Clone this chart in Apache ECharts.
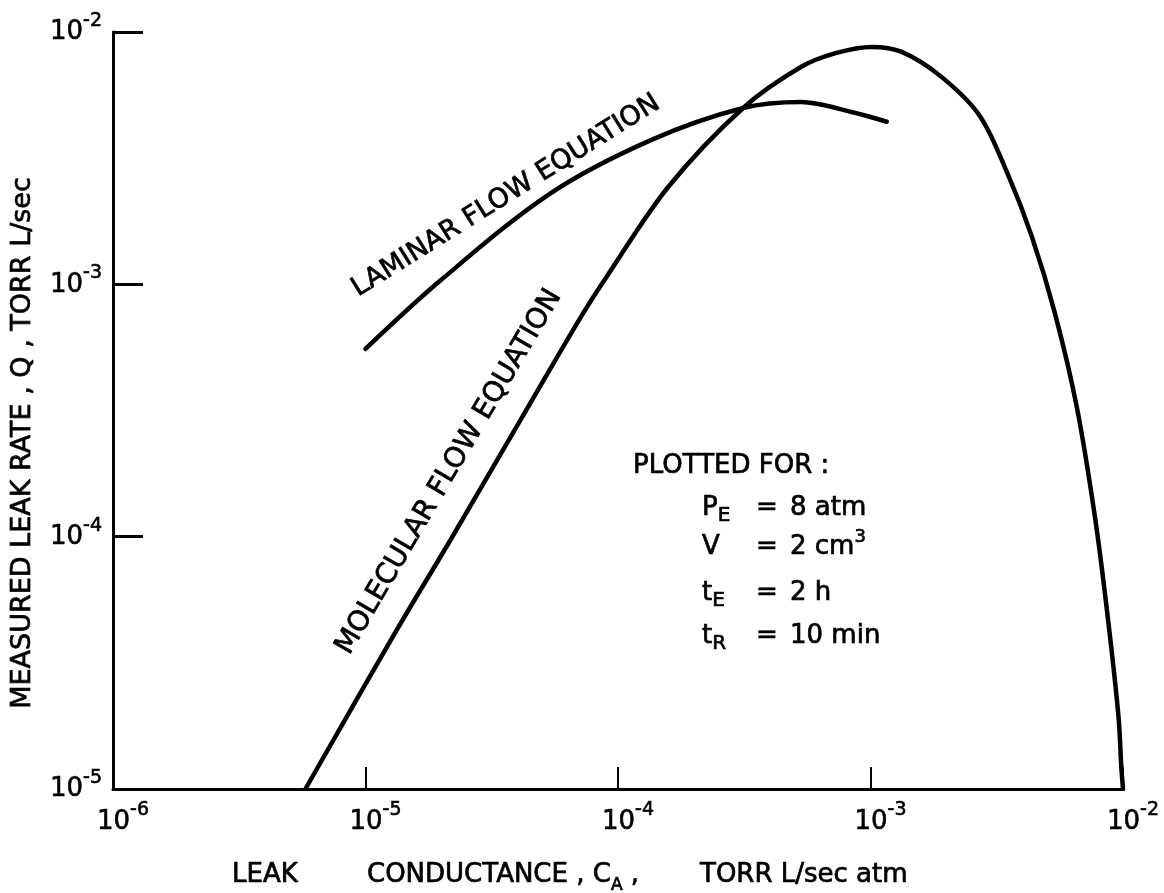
<!DOCTYPE html>
<html>
  <head>
    <meta charset="utf-8" />
    <title>Measured leak rate vs leak conductance</title>
    <style>
      html, body { margin: 0; padding: 0; background: #fff; }
      #main { width: 1164px; height: 893px; }
    </style>
  </head>
  <body>
    <div id="main"></div>
    <script src="https://cdn.jsdelivr.net/npm/echarts@6/dist/echarts.min.js"></script>
    <script>
      // leak conductance C_A (torr L/sec atm) -> measured leak rate Q (torr L/sec)
      var molecularC = [5.78e-6, 1.33e-5, 2.17e-5, 3.9e-5, 7.13e-5, 8.95e-5, 1.58e-4, 3.13e-4, 5.32e-4, 7.33e-4,
        1.01e-3, 1.33e-3, 1.91e-3, 2.71e-3, 3.53e-3, 4.36e-3, 5.37e-3, 6.56e-3, 7.74e-3, 8.7e-3, 9.6e-3, 9.85e-3, 1.0e-2];
      var molecularQ = [1.0e-5, 4.27e-5, 9.7e-5, 2.65e-4, 7.43e-4, 1.06e-3, 2.43e-3, 5.0e-3, 7.28e-3, 8.26e-3,
        8.73e-3, 8.34e-3, 6.64e-3, 4.65e-3, 2.67e-3, 1.54e-3, 7.71e-4, 3.27e-4, 1.2e-4, 4.81e-5, 1.93e-5, 1.22e-5, 1.0e-5];

      var laminarC = [1.0e-5, 1.99e-5, 5.42e-5, 1.35e-4, 3.13e-4, 5.32e-4, 8.41e-4, 1.16e-3];
      var laminarQ = [5.55e-4, 1.04e-3, 2.3e-3, 3.73e-3, 5.0e-3, 5.28e-3, 4.82e-3, 4.41e-3];

      var conditionNames = ["{n|P}{s|E}", "{n|V}", "{n|t}{s|E}", "{n|t}{s|R}"];
      var conditionValues = ["{n|8 atm}", "{n|2 cm}{p|3}", "{n|2 h}", "{n|10 min}"];

      var FONT = "DejaVu Sans";
      var INK = 0.7; // slight outline so the lettering reads as heavy as the original

      function pairs(xs, ys) {
        var out = [];
        for (var i = 0; i < xs.length; i++) {
          out.push([xs[i], ys[i]]);
        }
        return out;
      }

      function powerLabel(v) {
        var e = Math.round(Math.log10(v));
        return "{b|10}{s|" + e + "}";
      }

      function tok(size, extra) {
        var t = { fontSize: size, fontFamily: FONT, fill: "#000", stroke: "#000", lineWidth: INK };
        for (var k in extra) t[k] = extra[k];
        return t;
      }

      var noteRich = {
        n: tok(26, { padding: [6, 0, 5, 0] }),
        s: tok(20, { verticalAlign: "bottom" }),
        p: tok(18, { verticalAlign: "top" }),
      };

      function note(x, y, text) {
        return {
          type: "text",
          x: x,
          y: y,
          z: 100,
          style: { text: text, rich: noteRich, align: "left", verticalAlign: "top" },
        };
      }

      function plainText(x, y, deg, text, size) {
        return {
          type: "text", x: x, y: y, rotation: (deg * Math.PI) / 180, z: 100,
          style: { text: text, fontSize: size, fontFamily: FONT, fill: "#000", stroke: "#000",
            lineWidth: INK, align: "center", verticalAlign: "middle" },
        };
      }

      var graphics = [];
      // y axis name
      graphics.push(plainText(23, 443, 90, "MEASURED LEAK RATE , Q , TORR L/sec", 27));
      // x axis name
      var xRich = {
        n: tok(26, { padding: [0, 0, 6, 0] }),
        s: tok(17, { verticalAlign: "bottom" }),
      };
      graphics.push({ type: "text", x: 232, y: 862, z: 100,
        style: { text: "{n|LEAK}", rich: xRich, align: "left", verticalAlign: "top" } });
      graphics.push({ type: "text", x: 367, y: 862, z: 100,
        style: { text: "{n|CONDUCTANCE , C}{s|A}{n| ,}", rich: xRich, align: "left", verticalAlign: "top" } });
      graphics.push({ type: "text", x: 700, y: 862, z: 100,
        style: { text: "{n|TORR L/sec atm}", rich: xRich, align: "left", verticalAlign: "top" } });

      // curve labels
      graphics.push(plainText(506, 196, 32, "LAMINAR FLOW EQUATION", 27));
      graphics.push(plainText(449, 472, 59.5, "MOLECULAR FLOW EQUATION", 28));

      // plotted-for block
      graphics.push(note(633, 466 - 19, "{n|PLOTTED FOR :}"));
      var rowY = [508, 547, 593, 636];
      for (var i = 0; i < conditionNames.length; i++) {
        graphics.push(note(702, rowY[i] - 19, conditionNames[i]));
        graphics.push(note(756, rowY[i] - 19, "{n|=}"));
        graphics.push(note(790, rowY[i] - 19, conditionValues[i]));
      }

      var axisCommon = {
        type: "log",
        logBase: 10,
        splitLine: { show: false },
        minorTick: { show: false },
        axisLine: { show: true, lineStyle: { color: "#000", width: 3 } },
      };

      var labelRich = function (padLeft) {
        return {
          b: { fontSize: 26, fontFamily: FONT, color: "#000", textBorderColor: "#000", textBorderWidth: 0.6,
            padding: [8, 0, 7, padLeft] },
          s: { fontSize: 19, fontFamily: FONT, color: "#000", textBorderColor: "#000", textBorderWidth: 0.6,
            verticalAlign: "top" },
        };
      };

      var chart = echarts.init(document.getElementById("main"));
      chart.setOption({
        animation: false,
        backgroundColor: "#fff",
        grid: { left: 113, right: 41, top: 32, bottom: 104, containLabel: false, outerBoundsMode: "none" },
        xAxis: Object.assign({}, axisCommon, {
          min: 1e-6,
          max: 1e-2,
          axisTick: { show: true, inside: true, length: 22, lineStyle: { color: "#000", width: 2 } },
          axisLabel: {
            margin: 12,
            showMinLabel: true,
            showMaxLabel: true,
            formatter: powerLabel,
            rich: labelRich(20),
          },
        }),
        yAxis: Object.assign({}, axisCommon, {
          min: 1e-5,
          max: 1e-2,
          axisTick: { show: true, inside: true, length: 30, lineStyle: { color: "#000", width: 3 } },
          axisLabel: {
            margin: 11,
            showMinLabel: true,
            showMaxLabel: true,
            formatter: powerLabel,
            rich: labelRich(0),
          },
        }),
        series: [
          {
            name: "Molecular flow equation",
            type: "line",
            data: pairs(molecularC, molecularQ),
            showSymbol: false,
            symbol: "none",
            smooth: 0.33,
            lineStyle: { color: "#000", width: 4.5, cap: "round" },
          },
          {
            name: "Laminar flow equation",
            type: "line",
            data: pairs(laminarC, laminarQ),
            showSymbol: false,
            symbol: "none",
            smooth: 0.33,
            lineStyle: { color: "#000", width: 4.5, cap: "round" },
          },
        ],
        graphic: graphics,
      });

      window.addEventListener("resize", function () {
        chart.resize();
      });
    </script>
  </body>
</html>
